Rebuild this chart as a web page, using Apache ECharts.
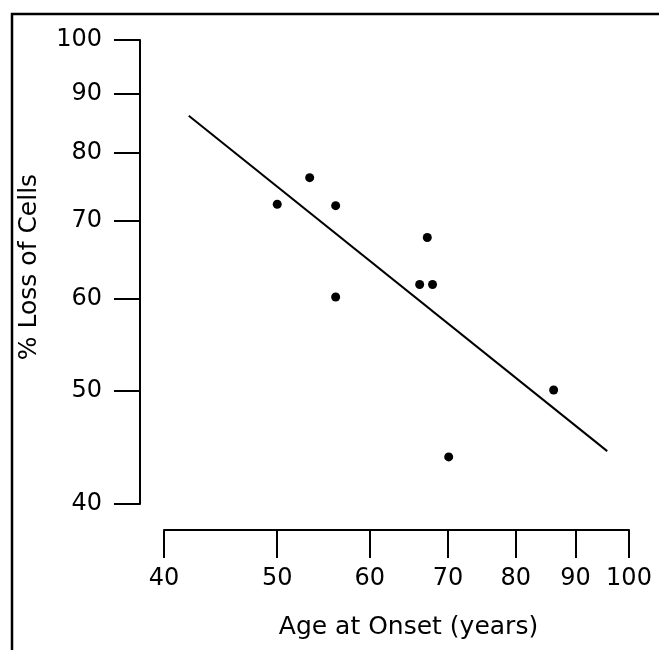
<!DOCTYPE html>
<html>
<head>
<meta charset="utf-8">
<script src="https://cdn.jsdelivr.net/npm/echarts@6/dist/echarts.min.js"></script>
<style>
html,body{margin:0;padding:0;background:#fff;}
#chart{width:659px;height:650px;}
</style>
</head>
<body>
<div id="chart"></div>
<script>
// Data (log-log plot)
var ageAtOnset = [50.0, 53.3, 56.1, 67.2, 66.2, 67.9, 56.1, 86.2, 70.1];
var lossOfCells = [72.3, 76.2, 72.1, 67.7, 61.7, 61.7, 60.2, 50.1, 43.9];
var fitLineX = [42.0, 95.8];
var fitLineY = [86.1, 44.4];
var xTicks = [40, 50, 60, 70, 80, 90, 100];
var yTicks = [40, 50, 60, 70, 80, 90, 100];
var xTitle = 'Age at Onset (years)';
var yTitle = '% Loss of Cells';

var points = ageAtOnset.map(function (x, i) { return [x, lossOfCells[i]]; });
var fitLine = fitLineX.map(function (x, i) { return [x, fitLineY[i]]; });

var font = '"DejaVu Sans", "Liberation Sans", Arial, sans-serif';
var chart = echarts.init(document.getElementById('chart'), null, {renderer: 'canvas'});
chart.setOption({
  animation: false,
  backgroundColor: '#fff',
  graphic: [{
    type: 'rect',
    shape: {x: 12, y: 14, width: 700, height: 700},
    style: {fill: 'none', stroke: '#000', lineWidth: 2.5},
    silent: true,
    z: 100
  }],
  grid: {left: 164, right: 30, top: 40, bottom: 146, containLabel: false},
  xAxis: {
    type: 'log', logBase: 10, min: 40, max: 100,
    offset: 26,
    name: xTitle, nameLocation: 'middle', nameGap: 85,
    nameTextStyle: {fontFamily: font, fontSize: 25, color: '#000', padding: [0, 0, 0, 24]},
    axisLine: {show: true, lineStyle: {color: '#000', width: 2}},
    axisTick: {show: true, inside: false, length: 28, customValues: xTicks, lineStyle: {color: '#000', width: 2}},
    axisLabel: {customValues: xTicks, margin: 37, fontFamily: font, fontSize: 24, color: '#000'},
    splitLine: {show: false}, minorTick: {show: false}
  },
  yAxis: {
    type: 'log', logBase: 10, min: 40, max: 100,
    offset: 24,
    name: yTitle, nameLocation: 'middle', nameGap: 98,
    nameTextStyle: {fontFamily: font, fontSize: 25, color: '#000', padding: [0, 0, 0, 10]},
    axisLine: {show: true, lineStyle: {color: '#000', width: 2}},
    axisTick: {show: true, inside: false, length: 26, customValues: yTicks, lineStyle: {color: '#000', width: 2}},
    axisLabel: {customValues: yTicks, margin: 38, fontFamily: font, fontSize: 24, color: '#000'},
    splitLine: {show: false}, minorTick: {show: false}
  },
  series: [{
    type: 'line',
    data: fitLine,
    symbol: 'none',
    lineStyle: {color: '#000', width: 2}
  }, {
    type: 'scatter',
    data: points,
    symbol: 'circle',
    symbolSize: 9,
    itemStyle: {color: '#000', opacity: 1}
  }]
});
</script>
</body>
</html>
